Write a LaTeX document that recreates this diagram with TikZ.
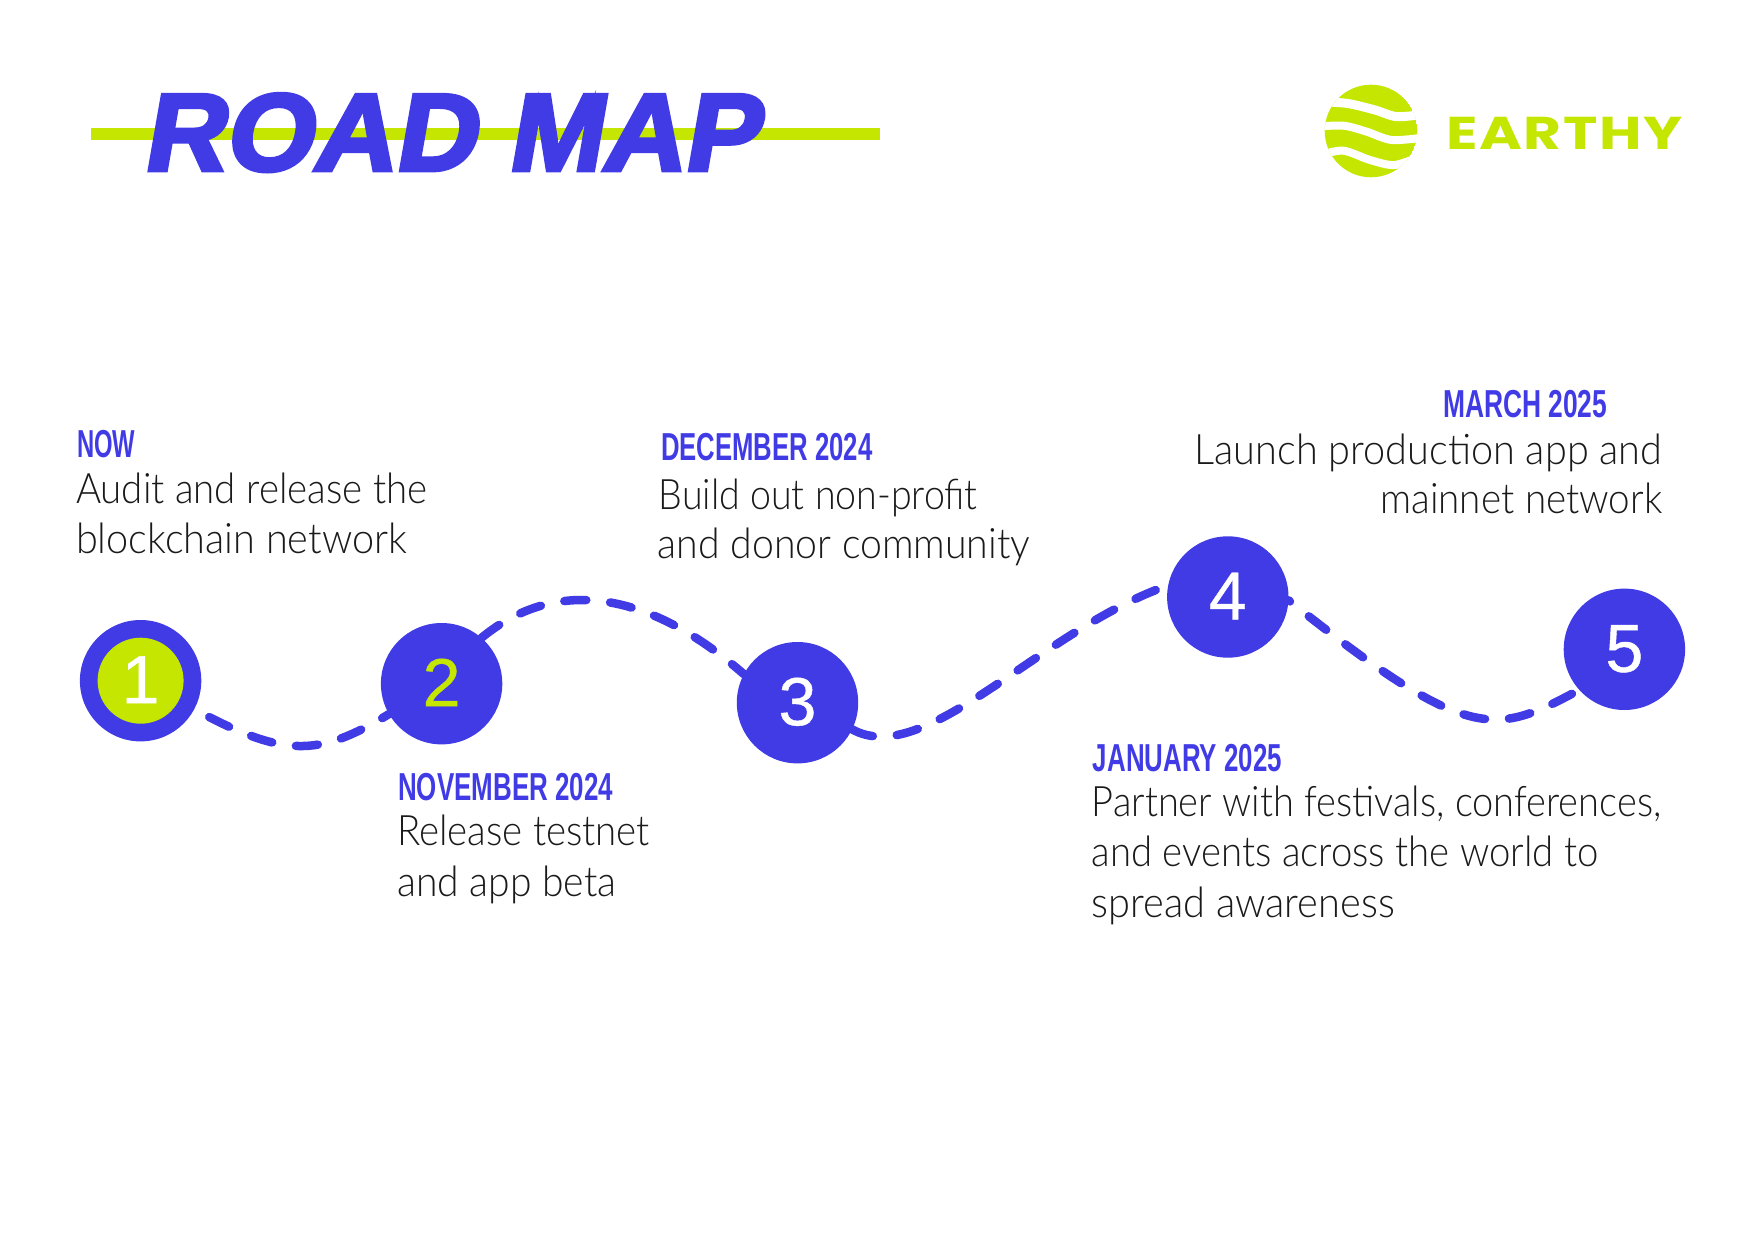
\documentclass[tikz,border=0pt]{standalone}
\usepackage{fontspec}
\usepackage{graphicx}
\usetikzlibrary{backgrounds}
\setmainfont{Lato Light}
\newfontfamily\datefont{Liberation Sans}[UprightFont=* Bold]
\newfontfamily\titlefont{Liberation Sans}[UprightFont=* Bold,UprightFeatures={FakeSlant=0.17,FakeBold=3.5}]
\newfontfamily\digitfont{Liberation Sans}[FakeBold=0.6]
\newfontfamily\logofont{Poppins}[UprightFont=* Bold,LetterSpace=3]
\definecolor{royal}{HTML}{413BE6}
\definecolor{lime}{HTML}{C4E600}
\definecolor{ink}{HTML}{1A1A1A}
\newsavebox{\fitbox}
\newcommand{\fitw}[2]{\sbox{\fitbox}{#2}\pgfmathsetmacro{\fitr}{#1/\the\wd\fitbox}\scalebox{\fitr}[1]{\usebox{\fitbox}}}
\tikzset{
  txt/.style={inner sep=0pt,outer sep=0pt,anchor=base west},
  bodytext/.style={txt,text=ink,font=\fontsize{42}{48}\selectfont},
  datetext/.style={txt,text=royal,font=\datefont\fontsize{39}{46}\selectfont},
  digit/.style={inner sep=0pt,outer sep=0pt,text height=49pt,text depth=4pt,font=\digitfont\fontsize{68}{70}\selectfont},
  stop/.style={circle,fill=royal,minimum size=121.4pt,digit,text=white},
  trail/.style={draw=royal,line width=8.5pt,line cap=round}
}
\begin{document}
\begin{tikzpicture}[x=1pt,y=-1pt]
\useasboundingbox (0,0) rectangle (1754,1241);
% title
\fill[lime] (90.5,128) rectangle (879.5,140);
\node[txt,text=royal,font=\titlefont\fontsize{110}{112}\selectfont] (title) at (142,170.5) {\fitw{616}{ROAD MAP}};
% logo
\begin{scope}
\clip (1371,131) circle (46.3);
\fill[lime] (1371,131) circle (46.3);
\begin{scope}[shift={(1300,70)},x=0.3333pt,y=-0.3333pt]
\draw[white,line width=9pt,smooth] plot coordinates {(50,95) (140,100) (225,120) (290,140) (370,133)};
\draw[white,line width=8pt,smooth] plot coordinates {(50,170) (130,167) (200,185) (275,210) (370,203)};
\draw[white,line width=8pt,smooth] plot coordinates {(60,255) (130,242) (210,270) (285,285) (370,255)};
\end{scope}
\end{scope}
\node[txt,text=lime,font=\logofont\fontsize{46}{50}\selectfont] (logo) at (1446,149.3) {\fitw{237}{EARTHY}};
% stops
\node[stop] (c1) at (140.6,680.7) {};
\node[circle,fill=lime,minimum size=86pt,digit,text=white] (c1in) at (140.6,680.7) {1};
\node[stop,text=lime] (c2) at (441.6,683.7) {2};
\node[stop] (c3) at (797.5,702.7) {3};
\node[stop] (c4) at (1227.8,597) {4};
\node[stop] (c5) at (1624.4,649.3) {5};
% connectors
\begin{pgfonlayer}{background}
\draw[trail,dash pattern=on 22pt off 24pt,dash phase=29] (c1.-28) .. controls (285,758) and (318,757) .. (c2.-150);
\draw[trail,dash pattern=on 22pt off 24pt] (c2.49) .. controls (553,579) and (644,587) .. (c3.152);
\draw[trail,dash pattern=on 22pt off 24pt] (c3.-26) .. controls (925,770) and (1040,630) .. (c4.169);
\draw[trail,dash pattern=on 22pt off 24pt,dash phase=20] (c4.-3) .. controls (1470,745) and (1495,735) .. (c5.-138);
\end{pgfonlayer}
% labels
\node[datetext] (d1) at (77.2,457.5) {\fitw{58.2}{NOW}};
\node[bodytext] (t1a) at (76,503.4) {\fitw{351.2}{Audit and release the}};
\node[bodytext] (t1b) at (76,553.7) {\fitw{331}{blockchain network}};
\node[datetext] (d3) at (661,460.9) {\fitw{211.4}{DECEMBER 2024}};
\node[bodytext] (t3a) at (658.9,509) {\fitw{318.8}{Build out non-profit}};
\node[bodytext] (t3b) at (657.7,558.2) {\fitw{372.5}{and donor community}};
\node[datetext] (d5) at (1443,417.2) {\fitw{164.4}{MARCH 2025}};
\node[bodytext] (t5a) at (1194.7,464.2) {\fitw{467.6}{Launch production app and}};
\node[bodytext] (t5b) at (1380.4,513.4) {\fitw{281.9}{mainnet network}};
\node[datetext] (d2) at (398.2,800.9) {\fitw{214.8}{NOVEMBER 2024}};
\node[bodytext] (t2a) at (397.1,845.7) {\fitw{252.8}{Release testnet}};
\node[bodytext] (t2b) at (397.1,896) {\fitw{219.2}{and app beta}};
\node[datetext] (d4) at (1092.9,771.8) {\fitw{189}{JANUARY 2025}};
\node[bodytext] (t4a) at (1091.8,816.6) {\fitw{569.4}{Partner with festivals, conferences,}};
\node[bodytext] (t4b) at (1091.8,866.9) {\fitw{506.7}{and events across the world to}};
\node[bodytext] (t4c) at (1091.8,917.3) {\fitw{303.1}{spread awareness}};
\end{tikzpicture}
\end{document}
